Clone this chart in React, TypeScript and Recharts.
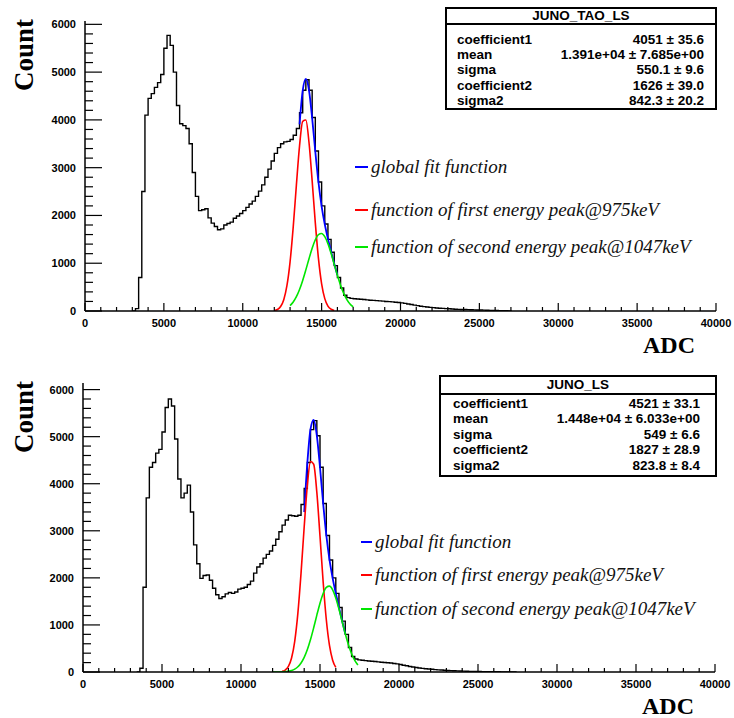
import { ComposedChart, Label, Legend, Line, XAxis, YAxis } from "recharts";

// axis ticks
const X_MAJOR = [0, 5000, 10000, 15000, 20000, 25000, 30000, 35000, 40000];
const Y_MAJOR = [0, 1000, 2000, 3000, 4000, 5000, 6000];
const X_TICKS = Array.from({ length: 41 }, (_, i) => i * 1000);
const Y_TICKS = Array.from({ length: 31 }, (_, i) => i * 200);

const BIN_WIDTH = 200;
const CURVE_STEP = 200;

const FIT_LABELS = [
  "global fit function",
  "function of first energy peak@975keV",
  "function of second energy peak@1047keV",
];
const FIT_COLORS = ["#0000ff", "#ff0000", "#00e600"];
const STAT_NAMES = ["coefficient1", "mean", "sigma", "coefficient2", "sigma2"];

// JUNO_TAO_LS
const taoHistStart = 3000;
const taoCounts = [
  0, 50, 700, 2500, 4100, 4450, 4550, 4680, 4780, 4950,
  5500, 5770, 5560, 5000, 4300, 3920, 3880, 3820, 3500, 2900,
  2400, 2100, 2120, 2140, 1950, 1840, 1770, 1700, 1720, 1800,
  1830, 1860, 1940, 1990, 2040, 2100, 2170, 2240, 2300, 2400,
  2510, 2640, 2800, 2970, 3140, 3300, 3420, 3500, 3540, 3550,
  3590, 3680, 3820, 4150, 4620, 4840, 4620, 4050, 3350, 2700,
  2200, 1820, 1500, 1230, 950, 700, 480, 330, 280, 265,
  255, 250, 245, 240, 232, 226, 222, 218, 212, 206,
  200, 196, 190, 184, 178, 170, 160, 148, 136, 124,
  112, 100, 92, 84, 76, 70, 64, 58, 54, 50,
  46, 42, 38, 35, 32, 30, 28, 26, 24, 22,
  20, 18, 16, 14, 12, 10, 8, 6, 4, 2, 0,
];
const taoFirstStart = 12000;
const taoFirstPeak = [10, 32, 94, 237, 529, 1030, 1761, 2635, 3456, 3971, 3997, 3526, 2724, 1844, 1095, 568, 259, 103, 36, 11];
const taoSecondStart = 13000;
const taoSecondPeak = [112, 188, 299, 450, 640, 861, 1094, 1314, 1491, 1600, 1623, 1556, 1410, 1207, 977, 748, 541, 369, 239, 146, 84];
const taoGlobalStart = 13600;
const taoGlobalFit = [3906, 4611, 4858, 4620, 4038, 3335, 2695, 2191, 1815, 1513, 1243, 988, 751];
const taoStatValues = ["4051 \u00b1 35.6", "1.391e+04 \u00b1 7.685e+00", "550.1 \u00b1 9.6", "1626 \u00b1 39.0", "842.3 \u00b1 20.2"];

// JUNO_LS
const lsHistStart = 3400;
const lsCounts = [
  0, 80, 1800, 3700, 4350, 4450, 4650, 4730, 5100, 5620,
  5800, 5650, 4950, 4100, 3700, 3800, 3970, 3400, 2700, 2300,
  1990, 2050, 2060, 1950, 1780, 1640, 1560, 1600, 1660, 1690,
  1670, 1700, 1760, 1780, 1800, 1860, 1930, 2100, 2230, 2300,
  2420, 2500, 2570, 2690, 2820, 2980, 3120, 3230, 3330, 3320,
  3310, 3330, 3560, 3900, 4450, 5150, 5340, 5020, 4350, 3580,
  2900, 2380, 2000, 1670, 1370, 1080, 800, 520, 330, 275,
  258, 250, 242, 234, 228, 222, 215, 208, 202, 196,
  190, 182, 172, 160, 145, 132, 118, 106, 96, 86,
  78, 70, 63, 57, 51, 46, 41, 37, 33, 29,
  26, 23, 20, 18, 16, 14, 12, 11, 10, 9,
  8, 7, 6, 5, 4, 3, 3, 2, 2, 1, 0,
];
const lsFirstStart = 12600;
const lsFirstPeak = [13, 42, 119, 298, 653, 1251, 2100, 3085, 3969, 4473, 4414, 3815, 2887, 1913, 1110, 564, 251, 98];
const lsSecondStart = 12000;
const lsSecondPeak = [0, 0, 1, 3, 7, 15, 31, 61, 111, 192, 311, 478, 690, 940, 1208, 1462, 1669, 1797, 1824, 1745, 1574, 1338, 1073, 811, 578, 388, 246, 147];
const lsGlobalStart = 14000;
const lsGlobalFit = [3396, 4447, 5163, 5354, 5023, 4349, 3582, 2907, 2388, 1996, 1672, 1373, 1085, 814];
const lsStatValues = ["4521 \u00b1 33.1", "1.448e+04 \u00b1 6.033e+00", "549 \u00b1 6.6", "1827 \u00b1 28.9", "823.8 \u00b1 8.4"];

const SANS = '"Liberation Sans", Arial, Helvetica, sans-serif';
const SERIF = '"Liberation Serif", "Times New Roman", serif';

const toPoints = (start: number, step: number, values: number[]) =>
  values.map((y, i) => ({ x: start + i * step, y }));

const XTick = (props: any) => {
  const { x, y, payload } = props;
  const major = X_MAJOR.includes(payload.value);
  return (
    <g>
      <line x1={x} x2={x} y1={y} y2={y - (major ? 8 : 4)} stroke="#000" strokeWidth={1.2} />
      {major ? (
        <text x={x} y={y + 12} textAnchor="middle" dominantBaseline="central" fontFamily={SANS} fontWeight="bold" fontSize={11} fill="#000">
          {payload.value}
        </text>
      ) : null}
    </g>
  );
};

const YTick = (props: any) => {
  const { x, y, payload } = props;
  const major = Y_MAJOR.includes(payload.value);
  return (
    <g>
      <line x1={x} x2={x + (major ? 17 : 8)} y1={y} y2={y} stroke="#000" strokeWidth={1.2} />
      {major ? (
        <text x={x - 9} y={y} textAnchor="end" dominantBaseline="central" fontFamily={SANS} fontWeight="bold" fontSize={11} fill="#000">
          {payload.value}
        </text>
      ) : null}
    </g>
  );
};

type PanelProps = {
  top: number;
  height: number;
  plotLeft: number;
  plotRight: number;
  plotBottom: number;
  yMax: number;
  name: string;
  statValues: string[];
  box: { left: number; top: number; width: number; height: number; titleH: number; rowTops: number[]; padL: number; padR: number };
  legend: { lineX1: number; lineX2: number; textX: number; ys: number[] };
  hist: { x: number; y: number }[];
  first: { x: number; y: number }[];
  second: { x: number; y: number }[];
  global: { x: number; y: number }[];
};

function Panel(p: PanelProps) {
  const { legend, box } = p;
  return (
    <div style={{ position: "absolute", left: 0, top: p.top, width: 734, height: p.height }}>
      <ComposedChart
        width={734}
        height={p.height}
        margin={{ top: 21, right: 734 - p.plotRight, left: 0, bottom: 0 }}
      >
        <XAxis
          dataKey="x"
          type="number"
          domain={[0, 40000]}
          ticks={X_TICKS}
          interval={0}
          height={p.height - p.plotBottom}
          tickSize={0}
          tickMargin={0}
          tickLine={false}
          tick={XTick}
          axisLine={{ stroke: "#000", strokeWidth: 1.5 }}
          allowDataOverflow
        >
          <Label
            content={(lp: any) => {
              const vb = lp.viewBox || { x: p.plotLeft, y: p.plotBottom, width: p.plotRight - p.plotLeft };
              return (
                <text x={vb.x + vb.width - 21} y={vb.y + 42} textAnchor="end" fontFamily={SERIF} fontWeight="bold" fontSize={24} fill="#000">
                  ADC
                </text>
              );
            }}
          />
        </XAxis>
        <XAxis xAxisId="frameTop" orientation="top" type="number" domain={[0, 40000]} height={0} tick={false} tickLine={false} axisLine={{ stroke: "#555", strokeWidth: 1 }} />
        <YAxis
          type="number"
          domain={[0, p.yMax]}
          ticks={Y_TICKS}
          interval={0}
          width={p.plotLeft}
          tickSize={0}
          tickMargin={0}
          tickLine={false}
          tick={YTick}
          axisLine={{ stroke: "#000", strokeWidth: 1.5 }}
          allowDataOverflow
        >
          <Label
            content={(lp: any) => {
              const vb = lp.viewBox || { x: 0, y: 21 };
              const tx = vb.x + 33;
              const ty = vb.y - 2;
              return (
                <text x={tx} y={ty} transform={`rotate(-90 ${tx} ${ty})`} textAnchor="end" fontFamily={SERIF} fontWeight="bold" fontSize={27} fill="#000">
                  Count
                </text>
              );
            }}
          />
        </YAxis>
        <YAxis yAxisId="frameRight" orientation="right" type="number" domain={[0, p.yMax]} width={0} tick={false} tickLine={false} axisLine={{ stroke: "#555", strokeWidth: 1 }} />
        <Line data={p.hist} dataKey="y" type="stepAfter" stroke="#000" strokeWidth={1.4} dot={false} isAnimationActive={false} />
        <Line data={p.global} dataKey="y" type="monotone" stroke={FIT_COLORS[0]} strokeWidth={1.8} dot={false} isAnimationActive={false} />
        <Line data={p.first} dataKey="y" type="monotone" stroke={FIT_COLORS[1]} strokeWidth={1.6} dot={false} isAnimationActive={false} />
        <Line data={p.second} dataKey="y" type="monotone" stroke={FIT_COLORS[2]} strokeWidth={1.6} dot={false} isAnimationActive={false} />
        <Legend
          layout="horizontal"
          verticalAlign="middle"
          align="center"
          wrapperStyle={{ left: 0, top: 0, width: 734, height: 0 }}
          content={() => (
            <div style={{ position: "relative" }}>
              {FIT_LABELS.map((label, i) => (
                <div
                  key={label}
                  style={{ position: "absolute", left: legend.lineX1, top: legend.ys[i] - 12, height: 24, display: "flex", alignItems: "center", whiteSpace: "nowrap" }}
                >
                  <span style={{ display: "inline-block", width: legend.lineX2 - legend.lineX1, height: 2, background: FIT_COLORS[i] }} />
                  <span style={{ marginLeft: legend.textX - legend.lineX2, fontFamily: SERIF, fontStyle: "italic", fontSize: 19, color: "#111" }}>
                    {label}
                  </span>
                </div>
              ))}
            </div>
          )}
        />
      </ComposedChart>
      <div
        style={{
          position: "absolute",
          left: box.left,
          top: box.top,
          width: box.width,
          height: box.height,
          boxSizing: "border-box",
          border: "2px solid #000",
          background: "#fff",
          fontFamily: SANS,
          fontWeight: "bold",
          fontSize: 13.5,
          color: "#000",
        }}
      >
        <div style={{ height: box.titleH, lineHeight: `${box.titleH}px`, textAlign: "center", borderBottom: "2px solid #000" }}>{p.name}</div>
        {STAT_NAMES.map((n, i) => (
          <div
            key={n}
            style={{ position: "absolute", left: box.padL, right: box.padR, top: box.rowTops[i], height: 13, lineHeight: "13px", display: "flex", justifyContent: "space-between" }}
          >
            <span>{n}</span>
            <span>{p.statValues[i]}</span>
          </div>
        ))}
      </div>
    </div>
  );
}

export default function App() {
  return (
    <div style={{ position: "absolute", left: 0, top: 0, width: 734, height: 718, background: "#fff", overflow: "hidden" }}>
      <Panel
        top={0}
        height={360}
        plotLeft={85}
        plotRight={716}
        plotBottom={311}
        yMax={6070}
        name="JUNO_TAO_LS"
        statValues={taoStatValues}
        box={{ left: 445, top: 7, width: 272, height: 103, titleH: 14, rowTops: [23.5, 38.5, 54, 69.5, 85], padL: 10, padR: 11 }}
        legend={{ lineX1: 355, lineX2: 368, textX: 371, ys: [167, 210, 247] }}
        hist={toPoints(taoHistStart, BIN_WIDTH, taoCounts)}
        first={toPoints(taoFirstStart, CURVE_STEP, taoFirstPeak)}
        second={toPoints(taoSecondStart, CURVE_STEP, taoSecondPeak)}
        global={toPoints(taoGlobalStart, CURVE_STEP, taoGlobalFit)}
      />
      <Panel
        top={362}
        height={356}
        plotLeft={83}
        plotRight={715}
        plotBottom={310}
        yMax={6140}
        name="JUNO_LS"
        statValues={lsStatValues}
        box={{ left: 439, top: 13, width: 278, height: 102, titleH: 16, rowTops: [19.5, 35, 50.5, 66, 81.5], padL: 12, padR: 15 }}
        legend={{ lineX1: 361, lineX2: 372, textX: 375, ys: [180, 213, 247] }}
        hist={toPoints(lsHistStart, BIN_WIDTH, lsCounts)}
        first={toPoints(lsFirstStart, CURVE_STEP, lsFirstPeak)}
        second={toPoints(lsSecondStart, CURVE_STEP, lsSecondPeak)}
        global={toPoints(lsGlobalStart, CURVE_STEP, lsGlobalFit)}
      />
    </div>
  );
}
